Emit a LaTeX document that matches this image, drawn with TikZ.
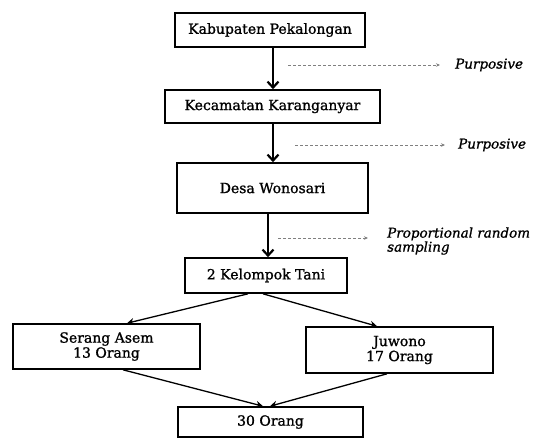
\documentclass[tikz,border=0pt]{standalone}
\usepackage{fontspec}
\setmainfont{DejaVu Serif}
\newfontfamily\boxfont{DejaVu Serif}[FakeBold=1.2]
\newfontfamily\lblfont{DejaVu Serif}[FakeBold=1,ItalicFeatures={FakeBold=1}]
\usetikzlibrary{arrows.meta}
\begin{document}
\begin{tikzpicture}[x=1pt,y=-1pt,
  box/.style={draw=black,line width=1.6pt,inner sep=0pt,font=\boxfont\fontsize{14}{15}\selectfont,align=center},
  mainarrow/.style={line width=2.3pt,-{Straight Barb[length=6pt,width=11pt,line width=2.2pt]}},
  diagarrow/.style={line width=1.3pt,-{Stealth[length=7pt,width=7pt]}},
  dasharrow/.style={draw=gray,line width=1pt,dash pattern=on 3pt off 2pt,-{Stealth[length=4pt,width=3.5pt]}},
  lbl/.style={font=\lblfont\fontsize{13.5}{12.5}\selectfont\itshape,anchor=west,inner sep=0pt,align=left}]
\useasboundingbox (0,0) rectangle (535,437);
\node[box,minimum width=190pt,minimum height=34pt] (kab) at (270,30) {Kabupaten Pekalongan};
\node[box,minimum width=215pt,minimum height=33pt] (kec) at (272.5,106.5) {Kecamatan Karanganyar};
\node[box,minimum width=191pt,minimum height=50pt] (desa) at (272.5,188) {Desa Wonosari};
\node[box,minimum width=162pt,minimum height=35pt] (kel) at (266,275.5) {2 Kelompok Tani};
\node[box,minimum width=187pt,minimum height=45pt] (ser) at (106.5,346.5) {Serang Asem\\13 Orang};
\node[box,minimum width=187pt,minimum height=46pt] (juw) at (399.5,350) {Juwono\\17 Orang};
\node[box,minimum width=185pt,minimum height=30pt] (tot) at (270.5,422) {30 Orang};
\coordinate (d1s) at (288,65);
\coordinate (d1e) at (440,65);
\coordinate (d2s) at (295,145);
\coordinate (d2e) at (445,145);
\coordinate (d3s) at (278,238);
\coordinate (d3e) at (368,238);
\node[lbl] (p1) at (455,65) {Purposive};
\node[lbl] (p2) at (458,145) {Purposive};
\node[lbl] (p3) at (387,241) {Proportional random\\sampling};
\draw[mainarrow] (kab.south -| 273,0) -- (kec.north -| 273,0);
\draw[mainarrow] (kec.south -| 273,0) -- (desa.north -| 273,0);
\draw[mainarrow] (desa.south -| 268,0) -- (kel.north -| 268,0);
\draw[dasharrow] (d1s) -- (d1e);
\draw[dasharrow] (d2s) -- (d2e);
\draw[dasharrow] (d3s) -- (d3e);
\draw[diagarrow] (kel.south -| 248,0) -- (ser.north -| 127,0);
\draw[diagarrow] (kel.south -| 263,0) -- (juw.north -| 377,0);
\draw[diagarrow] (ser.south -| 123,0) -- (tot.north -| 263,0);
\draw[diagarrow] (juw.south -| 387,0) -- (tot.north -| 270,0);
\end{tikzpicture}
\end{document}
